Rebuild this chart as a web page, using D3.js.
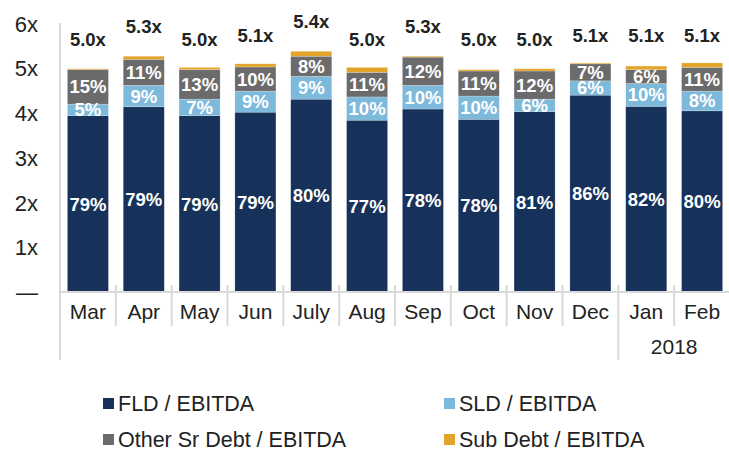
<!DOCTYPE html>
<html>
<head>
<meta charset="utf-8">
<script src="https://cdn.jsdelivr.net/npm/d3@7"></script>
<style>
  body { margin: 0; background: #fff; }
  svg { display: block; font-family: "Liberation Sans", Arial, sans-serif; }
</style>
</head>
<body>
<div id="chart"></div>
<script>
// values (x EBITDA)
var months = ["Mar", "Apr", "May", "Jun", "July", "Aug", "Sep", "Oct", "Nov", "Dec", "Jan", "Feb"];
var fld   = [3.95, 4.15, 3.95, 4.03, 4.32, 3.85, 4.10, 3.87, 4.04, 4.41, 4.16, 4.06];
var sld   = [0.26, 0.48, 0.37, 0.47, 0.51, 0.52, 0.53, 0.52, 0.28, 0.32, 0.51, 0.44];
var other = [0.77, 0.58, 0.66, 0.54, 0.45, 0.55, 0.63, 0.56, 0.63, 0.38, 0.31, 0.53];
var sub   = [0.02, 0.07, 0.05, 0.07, 0.11, 0.11, 0.02, 0.03, 0.05, 0.02, 0.08, 0.10];
var totals = [5.0, 5.3, 5.0, 5.1, 5.4, 5.0, 5.3, 5.0, 5.0, 5.1, 5.1, 5.1];
var fldPct   = [79, 79, 79, 79, 80, 77, 78, 78, 81, 86, 82, 80];
var sldPct   = [5, 9, 7, 9, 9, 10, 10, 10, 6, 6, 10, 8];
var otherPct = [15, 11, 13, 10, 8, 11, 12, 11, 12, 7, 6, 11];
var yTicks = [0, 1, 2, 3, 4, 5, 6];
var seriesNames = ["FLD / EBITDA", "SLD / EBITDA", "Other Sr Debt / EBITDA", "Sub Debt / EBITDA"];
var colors = ["#17325a", "#7db9da", "#6b6b6b", "#e2a42a"];

var width = 729, height = 450;
var gridColor = "#d9d9d9", textColor = "#222";

var svg = d3.select("#chart").append("svg")
    .attr("width", width)
    .attr("height", height);

var x = d3.scaleBand()
    .domain(months)
    .range([60, 730])
    .paddingInner(0.265)
    .paddingOuter(0.1325);

var y = d3.scaleLinear()
    .domain([0, 6])
    .range([292.5, 24]);

// table for the stack
var rows = months.map(function (m, i) {
    return { month: m, fld: fld[i], sld: sld[i], other: other[i], sub: sub[i],
             pcts: [fldPct[i], sldPct[i], otherPct[i], null] };
});
var keys = ["fld", "sld", "other", "sub"];
var stacked = d3.stack().keys(keys)(rows);

// y axis labels
var yAxis = d3.axisLeft(y)
    .tickValues(yTicks)
    .tickSize(0)
    .tickPadding(0)
    .tickFormat(function (d) { return d === 0 ? "\u2014" : d + "x"; });

var yg = svg.append("g")
    .attr("transform", "translate(38,0)")
    .call(yAxis);
yg.select(".domain").remove();
yg.selectAll("text")
    .attr("font-size", 22)
    .attr("fill", textColor)
    .attr("font-family", "Liberation Sans, Arial, sans-serif");

// grid / separator lines
var step = x.step();
var bounds = months.map(function (m) { return x(m) - x.paddingInner() * step / 2; });
bounds.push(x(months[months.length - 1]) + x.bandwidth() + x.paddingInner() * step / 2);

svg.append("g").selectAll("line")
    .data(bounds.slice(1, bounds.length - 1))
    .enter()
    .append("line")
        .attr("x1", function (d) { return d; })
        .attr("x2", function (d) { return d; })
        .attr("y1", 285)
        .attr("y2", function (d, i) { return months[i + 1] === "Jan" ? 360 : 326; })
        .attr("stroke", gridColor)
        .attr("stroke-width", 2);

// vertical axis line
svg.append("line")
    .attr("x1", 60).attr("x2", 60)
    .attr("y1", 23).attr("y2", 360)
    .attr("stroke", gridColor)
    .attr("stroke-width", 2);

// bars
var layers = svg.append("g").selectAll("g")
    .data(stacked)
    .enter()
    .append("g")
        .attr("fill", function (d, i) { return colors[i]; });

layers.selectAll("rect")
    .data(function (d) { return d; })
    .enter()
    .append("rect")
        .attr("x", function (d) { return x(d.data.month); })
        .attr("y", function (d) { return y(d[1]); })
        .attr("width", x.bandwidth())
        .attr("height", function (d) { return y(d[0]) - y(d[1]); })
        .attr("stroke", "rgba(255,255,255,0.35)")
        .attr("stroke-width", 0.6);

// horizontal baseline
svg.append("line")
    .attr("x1", 60).attr("x2", width)
    .attr("y1", 292).attr("y2", 292)
    .attr("stroke", gridColor)
    .attr("stroke-width", 2);

// percent labels inside segments
stacked.forEach(function (layer, li) {
    if (li > 2) return;
    svg.append("g").selectAll("text")
        .data(layer)
        .enter()
        .append("text")
            .attr("x", function (d) { return x(d.data.month) + x.bandwidth() / 2; })
            .attr("y", function (d) { return (y(d[0]) + y(d[1])) / 2; })
            .attr("dy", "0.35em")
            .attr("text-anchor", "middle")
            .attr("font-size", 18.5)
            .attr("font-weight", "bold")
            .attr("fill", "#fff")
            .text(function (d) { return d.data.pcts[li] + "%"; });
});

// total labels above bars
svg.append("g").selectAll("text")
    .data(months)
    .enter()
    .append("text")
        .attr("x", function (d) { return x(d) + x.bandwidth() / 2; })
        .attr("y", function (d, i) { return y(totals[i]) - 29; })
        .attr("dy", "0.35em")
        .attr("text-anchor", "middle")
        .attr("font-size", 18.5)
        .attr("font-weight", "bold")
        .attr("fill", textColor)
        .text(function (d, i) { return totals[i].toFixed(1) + "x"; });

// month labels
svg.append("g").selectAll("text")
    .data(months)
    .enter()
    .append("text")
        .attr("x", function (d) { return x(d) + x.bandwidth() / 2; })
        .attr("y", 312)
        .attr("dy", "0.35em")
        .attr("text-anchor", "middle")
        .attr("font-size", 21)
        .attr("fill", textColor)
        .text(function (d) { return d; });

// year label under Jan/Feb
svg.append("text")
    .attr("x", (x("Jan") + x("Feb") + x.bandwidth()) / 2)
    .attr("y", 347)
    .attr("dy", "0.35em")
    .attr("text-anchor", "middle")
    .attr("font-size", 21)
    .attr("fill", textColor)
    .text("2018");

// legend
var legendPos = [[103, 398], [444, 398], [103, 434], [444, 434]];
var legend = svg.append("g").selectAll("g")
    .data(seriesNames)
    .enter()
    .append("g")
        .attr("transform", function (d, i) { return "translate(" + legendPos[i][0] + "," + legendPos[i][1] + ")"; });

legend.append("rect")
    .attr("width", 11)
    .attr("height", 11)
    .attr("fill", function (d, i) { return colors[i]; });

legend.append("text")
    .attr("x", 15)
    .attr("y", 13)
    .attr("font-size", 21.5)
    .attr("fill", textColor)
    .text(function (d) { return d; });
</script>
</body>
</html>
